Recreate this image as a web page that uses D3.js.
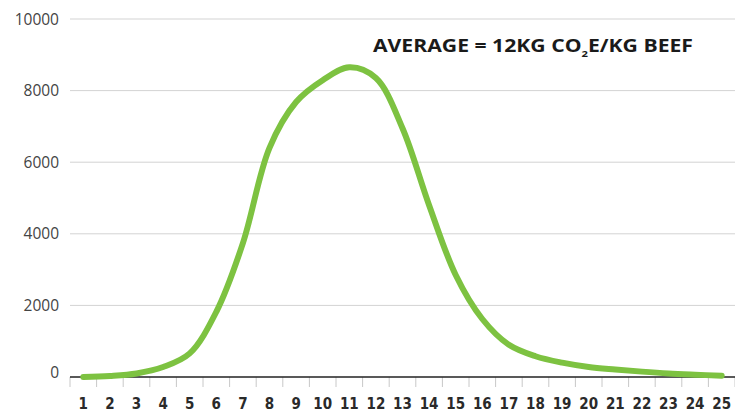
<!DOCTYPE html>
<html><head><meta charset="utf-8">
<script src="https://cdn.jsdelivr.net/npm/d3@7"></script>
<style>body{margin:0;background:#fff}</style>
</head><body><svg id="c" width="735" height="412"></svg>
<script>
const categories = d3.range(1, 26).map(String);
const values = [0, 30, 100, 280, 660, 1820, 3740, 6400, 7680, 8290, 8650, 8350, 6950, 4800, 2850, 1620, 900, 580, 400, 280, 210, 150, 100, 65, 35];
const yTicks = [0, 2000, 4000, 6000, 8000, 10000];
const title = "AVERAGE = 12KG CO";

const svg = d3.select("#c");
const x = d3.scaleBand().domain(categories).range([70, 735]);
const y = d3.scaleLinear().domain([0, 10000]).range([377, 19]);

svg.append("g").selectAll("line").data(yTicks.filter(d => d > 0)).join("line")
  .attr("x1", 70).attr("x2", 735).attr("y1", d => y(d)).attr("y2", d => y(d))
  .attr("stroke", "#d3d3d3").attr("stroke-width", 1);

svg.append("g").selectAll("text").data(yTicks).join("text")
  .attr("x", 59).attr("y", d => y(d) + (d === 0 ? 1 : 5.5)).attr("text-anchor", "end")
  .attr("font-family", "Open Sans").attr("font-size", 15.5).attr("fill", "#444")
  .text(d => d);

// x ticks
const edges = categories.map(c => x(c)).concat([735]);
svg.append("g").selectAll("line").data(edges).join("line")
  .attr("x1", d => d).attr("x2", d => d).attr("y1", 377).attr("y2", 387)
  .attr("stroke", "#c8c8c8").attr("stroke-width", 1);
svg.append("line").attr("x1", 70).attr("x2", 735).attr("y1", 377).attr("y2", 377)
  .attr("stroke", "#222").attr("stroke-width", 1.5);

svg.append("g").selectAll("text").data(categories).join("text")
  .attr("x", d => x(d) + x.bandwidth() / 2).attr("y", 409).attr("text-anchor", "middle")
  .attr("font-family", "DejaVu Sans").attr("font-stretch", "condensed").attr("font-weight", "bold")
  .attr("font-size", 15).attr("fill", "#2a2a2a")
  .text(d => d);

const line = d3.line().x((d, i) => x(categories[i]) + x.bandwidth() / 2).y(d => y(d)).curve(d3.curveCatmullRom.alpha(0.5));
svg.append("path").datum(values).attr("d", line).attr("fill", "none")
  .attr("stroke", "#7dc241").attr("stroke-width", 6).attr("stroke-linecap", "round").attr("stroke-linejoin", "round");

const t = svg.append("text").attr("x", 373).attr("y", 52)
  .attr("font-family", "Open Sans").attr("font-weight", "bold").attr("font-size", 17).attr("fill", "#1a1a1a")
  .attr("textLength", 320).attr("lengthAdjust", "spacingAndGlyphs");
t.append("tspan").text(title);
t.append("tspan").attr("font-size", 9).attr("dy", 5).text("2");
t.append("tspan").attr("dy", -5).text("E/KG BEEF");
</script></body></html>
